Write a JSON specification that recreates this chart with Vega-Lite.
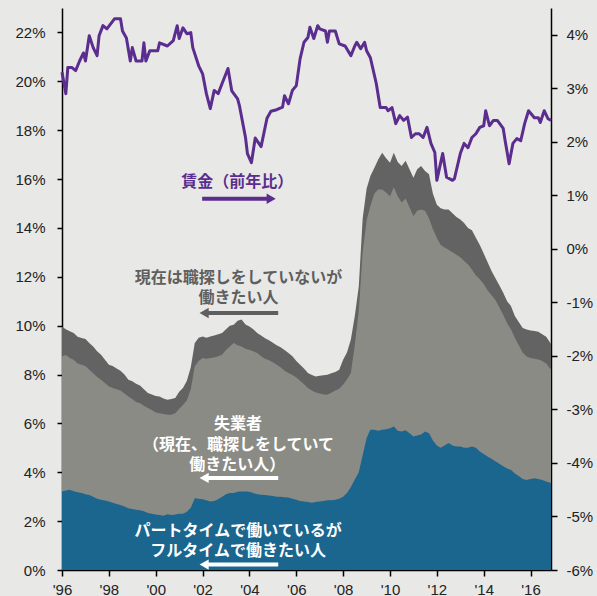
{
  "$schema": "https://vega.github.io/schema/vega-lite/v6.json",
  "width": 489,
  "height": 562,
  "autosize": "none",
  "padding": {"left": 62, "top": 8, "right": 46, "bottom": 26},
  "background": "#e8e8e6",
  "config": {
    "view": {"stroke": null},
    "axis": {"grid": false, "domainColor": "#000", "tickColor": "#000", "domainWidth": 1.5, "tickWidth": 1.5, "labelFont": "Liberation Sans", "labelFontSize": 15, "labelColor": "#222", "title": null}
  },
  "datasets": {
    "areas": [
      {"d":"1996-01-01","B":3.21,"G":8.74,"T":9.95},
      {"d":"1996-03-01","B":3.25,"G":8.80,"T":9.85},
      {"d":"1996-05-01","B":3.28,"G":8.68,"T":9.77},
      {"d":"1996-07-01","B":3.22,"G":8.60,"T":9.70},
      {"d":"1996-09-01","B":3.18,"G":8.45,"T":9.55},
      {"d":"1996-11-01","B":3.15,"G":8.40,"T":9.49},
      {"d":"1997-01-01","B":3.10,"G":8.35,"T":9.45},
      {"d":"1997-03-01","B":3.07,"G":8.20,"T":9.29},
      {"d":"1997-05-01","B":3.00,"G":8.05,"T":9.15},
      {"d":"1997-07-01","B":2.92,"G":7.90,"T":8.95},
      {"d":"1997-09-01","B":2.87,"G":7.79,"T":8.81},
      {"d":"1997-11-01","B":2.84,"G":7.65,"T":8.60},
      {"d":"1998-01-01","B":2.80,"G":7.51,"T":8.40},
      {"d":"1998-03-01","B":2.75,"G":7.45,"T":8.35},
      {"d":"1998-05-01","B":2.70,"G":7.40,"T":8.25},
      {"d":"1998-07-01","B":2.66,"G":7.35,"T":8.15},
      {"d":"1998-09-01","B":2.60,"G":7.22,"T":8.00},
      {"d":"1998-11-01","B":2.53,"G":7.10,"T":7.79},
      {"d":"1999-01-01","B":2.50,"G":7.00,"T":7.72},
      {"d":"1999-03-01","B":2.47,"G":6.88,"T":7.62},
      {"d":"1999-05-01","B":2.45,"G":6.82,"T":7.55},
      {"d":"1999-07-01","B":2.40,"G":6.72,"T":7.40},
      {"d":"1999-09-01","B":2.33,"G":6.63,"T":7.24},
      {"d":"1999-11-01","B":2.30,"G":6.55,"T":7.18},
      {"d":"2000-01-01","B":2.27,"G":6.45,"T":7.12},
      {"d":"2000-03-01","B":2.25,"G":6.42,"T":7.10},
      {"d":"2000-05-01","B":2.22,"G":6.38,"T":7.02},
      {"d":"2000-07-01","B":2.28,"G":6.35,"T":6.97},
      {"d":"2000-09-01","B":2.25,"G":6.35,"T":7.00},
      {"d":"2000-11-01","B":2.27,"G":6.42,"T":7.04},
      {"d":"2001-01-01","B":2.30,"G":6.60,"T":7.30},
      {"d":"2001-03-01","B":2.30,"G":6.75,"T":7.45},
      {"d":"2001-05-01","B":2.38,"G":6.95,"T":7.75},
      {"d":"2001-07-01","B":2.55,"G":7.40,"T":8.30},
      {"d":"2001-09-01","B":2.94,"G":8.33,"T":9.29},
      {"d":"2001-11-01","B":2.92,"G":8.55,"T":9.50},
      {"d":"2002-01-01","B":2.90,"G":8.68,"T":9.56},
      {"d":"2002-03-01","B":2.85,"G":8.65,"T":9.50},
      {"d":"2002-05-01","B":2.80,"G":8.68,"T":9.56},
      {"d":"2002-07-01","B":2.82,"G":8.70,"T":9.60},
      {"d":"2002-09-01","B":2.90,"G":8.75,"T":9.65},
      {"d":"2002-11-01","B":3.00,"G":8.81,"T":9.70},
      {"d":"2003-01-01","B":3.10,"G":9.00,"T":9.85},
      {"d":"2003-03-01","B":3.15,"G":9.15,"T":10.00},
      {"d":"2003-05-01","B":3.15,"G":9.29,"T":10.04},
      {"d":"2003-07-01","B":3.20,"G":9.20,"T":10.20},
      {"d":"2003-09-01","B":3.21,"G":9.15,"T":10.25},
      {"d":"2003-11-01","B":3.21,"G":9.05,"T":10.05},
      {"d":"2004-01-01","B":3.20,"G":9.00,"T":9.97},
      {"d":"2004-03-01","B":3.15,"G":8.95,"T":9.85},
      {"d":"2004-05-01","B":3.10,"G":8.88,"T":9.70},
      {"d":"2004-07-01","B":3.08,"G":8.75,"T":9.60},
      {"d":"2004-09-01","B":3.07,"G":8.65,"T":9.48},
      {"d":"2004-11-01","B":3.05,"G":8.58,"T":9.40},
      {"d":"2005-01-01","B":3.03,"G":8.50,"T":9.30},
      {"d":"2005-03-01","B":3.00,"G":8.40,"T":9.20},
      {"d":"2005-05-01","B":3.00,"G":8.30,"T":9.12},
      {"d":"2005-07-01","B":2.98,"G":8.15,"T":9.00},
      {"d":"2005-09-01","B":2.97,"G":8.06,"T":8.88},
      {"d":"2005-11-01","B":2.92,"G":7.98,"T":8.75},
      {"d":"2006-01-01","B":2.87,"G":7.88,"T":8.55},
      {"d":"2006-03-01","B":2.82,"G":7.75,"T":8.40},
      {"d":"2006-05-01","B":2.80,"G":7.60,"T":8.25},
      {"d":"2006-07-01","B":2.78,"G":7.45,"T":8.06},
      {"d":"2006-09-01","B":2.75,"G":7.35,"T":7.98},
      {"d":"2006-11-01","B":2.78,"G":7.26,"T":7.92},
      {"d":"2007-01-01","B":2.80,"G":7.22,"T":7.95},
      {"d":"2007-03-01","B":2.82,"G":7.18,"T":7.97},
      {"d":"2007-05-01","B":2.85,"G":7.17,"T":7.99},
      {"d":"2007-07-01","B":2.85,"G":7.25,"T":8.05},
      {"d":"2007-09-01","B":2.88,"G":7.35,"T":8.10},
      {"d":"2007-11-01","B":2.92,"G":7.42,"T":8.20},
      {"d":"2008-01-01","B":3.00,"G":7.58,"T":8.60},
      {"d":"2008-03-01","B":3.15,"G":7.80,"T":8.90},
      {"d":"2008-05-01","B":3.40,"G":8.06,"T":9.43},
      {"d":"2008-07-01","B":3.70,"G":9.20,"T":10.40},
      {"d":"2008-09-01","B":4.00,"G":10.60,"T":11.60},
      {"d":"2008-11-01","B":4.70,"G":13.00,"T":14.40},
      {"d":"2009-01-01","B":5.40,"G":14.30,"T":15.60},
      {"d":"2009-03-01","B":5.74,"G":14.90,"T":16.12},
      {"d":"2009-05-01","B":5.74,"G":15.40,"T":16.45},
      {"d":"2009-07-01","B":5.70,"G":15.57,"T":16.80},
      {"d":"2009-09-01","B":5.74,"G":15.57,"T":17.08},
      {"d":"2009-11-01","B":5.76,"G":15.45,"T":16.85},
      {"d":"2010-01-01","B":5.80,"G":15.30,"T":16.67},
      {"d":"2010-03-01","B":5.87,"G":15.66,"T":17.08},
      {"d":"2010-05-01","B":5.70,"G":15.30,"T":16.70},
      {"d":"2010-07-01","B":5.67,"G":15.04,"T":16.53},
      {"d":"2010-09-01","B":5.72,"G":15.20,"T":16.75},
      {"d":"2010-11-01","B":5.60,"G":14.85,"T":16.40},
      {"d":"2011-01-01","B":5.46,"G":14.48,"T":16.05},
      {"d":"2011-03-01","B":5.50,"G":14.70,"T":16.40},
      {"d":"2011-05-01","B":5.55,"G":14.75,"T":16.53},
      {"d":"2011-07-01","B":5.67,"G":14.70,"T":16.33},
      {"d":"2011-09-01","B":5.60,"G":14.40,"T":16.20},
      {"d":"2011-11-01","B":5.30,"G":13.95,"T":15.40},
      {"d":"2012-01-01","B":5.10,"G":13.60,"T":14.95},
      {"d":"2012-03-01","B":5.00,"G":13.30,"T":14.80},
      {"d":"2012-05-01","B":5.10,"G":13.20,"T":14.75},
      {"d":"2012-07-01","B":5.20,"G":13.11,"T":14.75},
      {"d":"2012-09-01","B":5.10,"G":13.00,"T":14.60},
      {"d":"2012-11-01","B":5.05,"G":12.90,"T":14.45},
      {"d":"2013-01-01","B":5.05,"G":12.80,"T":14.34},
      {"d":"2013-03-01","B":5.00,"G":12.65,"T":14.20},
      {"d":"2013-05-01","B":5.00,"G":12.50,"T":14.00},
      {"d":"2013-07-01","B":5.05,"G":12.30,"T":13.90},
      {"d":"2013-09-01","B":5.00,"G":12.05,"T":13.60},
      {"d":"2013-11-01","B":4.85,"G":11.90,"T":13.30},
      {"d":"2014-01-01","B":4.75,"G":11.70,"T":12.95},
      {"d":"2014-03-01","B":4.65,"G":11.45,"T":12.60},
      {"d":"2014-05-01","B":4.55,"G":11.25,"T":12.25},
      {"d":"2014-07-01","B":4.45,"G":11.05,"T":11.95},
      {"d":"2014-09-01","B":4.35,"G":10.75,"T":11.65},
      {"d":"2014-11-01","B":4.25,"G":10.45,"T":11.35},
      {"d":"2015-01-01","B":4.15,"G":10.10,"T":11.00},
      {"d":"2015-03-01","B":4.10,"G":9.85,"T":10.80},
      {"d":"2015-05-01","B":3.95,"G":9.50,"T":10.40},
      {"d":"2015-07-01","B":3.85,"G":9.20,"T":10.15},
      {"d":"2015-09-01","B":3.72,"G":8.90,"T":9.90},
      {"d":"2015-11-01","B":3.68,"G":8.74,"T":9.84},
      {"d":"2016-01-01","B":3.72,"G":8.68,"T":9.80},
      {"d":"2016-03-01","B":3.75,"G":8.65,"T":9.78},
      {"d":"2016-05-01","B":3.72,"G":8.61,"T":9.75},
      {"d":"2016-07-01","B":3.68,"G":8.55,"T":9.65},
      {"d":"2016-09-01","B":3.62,"G":8.45,"T":9.55},
      {"d":"2016-11-15","B":3.56,"G":8.20,"T":9.25}
    ],
    "wage": [
      {"d":"1996-01-01","w":3.30},{"d":"1996-03-01","w":2.90},{"d":"1996-04-01","w":3.39},{"d":"1996-06-01","w":3.39},
      {"d":"1996-08-01","w":3.33},{"d":"1996-10-01","w":3.51},{"d":"1996-12-01","w":3.66},{"d":"1997-01-01","w":3.51},
      {"d":"1997-03-01","w":3.98},{"d":"1997-05-01","w":3.76},{"d":"1997-07-01","w":3.61},{"d":"1997-08-01","w":3.98},
      {"d":"1997-10-01","w":4.17},{"d":"1997-12-01","w":4.11},{"d":"1998-04-01","w":4.30},{"d":"1998-07-01","w":4.30},
      {"d":"1998-08-01","w":4.07},{"d":"1998-10-01","w":3.94},{"d":"1998-12-01","w":3.51},{"d":"1999-01-01","w":3.76},
      {"d":"1999-03-01","w":3.51},{"d":"1999-06-01","w":3.51},{"d":"1999-07-01","w":3.85},{"d":"1999-08-01","w":3.51},
      {"d":"1999-10-01","w":3.70},{"d":"2000-02-01","w":3.70},{"d":"2000-03-01","w":3.85},{"d":"2000-07-01","w":3.79},
      {"d":"2000-10-01","w":3.89},{"d":"2000-12-01","w":4.17},{"d":"2001-01-01","w":3.93},{"d":"2001-03-01","w":4.13},
      {"d":"2001-05-01","w":4.02},{"d":"2001-07-01","w":4.04},{"d":"2001-08-01","w":3.76},{"d":"2001-11-01","w":3.42},
      {"d":"2002-01-01","w":3.27},{"d":"2002-03-01","w":2.90},{"d":"2002-05-01","w":2.62},{"d":"2002-07-01","w":2.96},
      {"d":"2002-09-01","w":2.90},{"d":"2002-11-01","w":3.09},{"d":"2003-02-01","w":3.37},{"d":"2003-04-01","w":2.95},
      {"d":"2003-07-01","w":2.80},{"d":"2003-08-01","w":2.66},{"d":"2003-11-01","w":2.08},{"d":"2003-12-01","w":1.78},
      {"d":"2004-02-01","w":1.61},{"d":"2004-04-01","w":2.07},{"d":"2004-07-01","w":1.91},{"d":"2004-10-01","w":2.44},
      {"d":"2004-12-01","w":2.57},{"d":"2005-03-01","w":2.60},{"d":"2005-06-01","w":2.65},{"d":"2005-07-01","w":2.86},
      {"d":"2005-09-01","w":2.71},{"d":"2005-11-01","w":2.96},{"d":"2006-01-01","w":3.05},{"d":"2006-03-01","w":3.55},
      {"d":"2006-05-01","w":3.86},{"d":"2006-07-01","w":3.95},{"d":"2006-08-01","w":4.14},{"d":"2006-10-01","w":3.93},
      {"d":"2006-12-01","w":4.17},{"d":"2007-01-01","w":4.11},{"d":"2007-04-01","w":4.07},{"d":"2007-05-01","w":3.86},
      {"d":"2007-06-01","w":4.07},{"d":"2007-09-01","w":4.07},{"d":"2007-11-01","w":3.83},{"d":"2008-02-01","w":3.79},
      {"d":"2008-05-01","w":3.61},{"d":"2008-07-01","w":3.79},{"d":"2008-08-01","w":3.86},{"d":"2008-10-01","w":3.74},
      {"d":"2008-12-01","w":3.86},{"d":"2009-01-01","w":3.70},{"d":"2009-03-01","w":3.57},{"d":"2009-06-01","w":3.09},
      {"d":"2009-08-01","w":2.64},{"d":"2009-11-01","w":2.64},{"d":"2009-12-01","w":2.58},{"d":"2010-02-01","w":2.64},
      {"d":"2010-04-01","w":2.34},{"d":"2010-06-01","w":2.49},{"d":"2010-08-01","w":2.40},{"d":"2010-10-01","w":2.46},
      {"d":"2010-12-01","w":2.08},{"d":"2011-02-01","w":2.15},{"d":"2011-04-01","w":2.15},{"d":"2011-06-01","w":2.08},
      {"d":"2011-08-01","w":2.27},{"d":"2011-10-01","w":1.97},{"d":"2011-12-01","w":1.80},{"d":"2012-01-01","w":1.28},
      {"d":"2012-04-01","w":1.78},{"d":"2012-06-01","w":1.34},{"d":"2012-09-01","w":1.28},{"d":"2012-10-01","w":1.31},
      {"d":"2013-01-01","w":1.78},{"d":"2013-03-01","w":1.97},{"d":"2013-05-01","w":1.89},{"d":"2013-07-01","w":2.08},
      {"d":"2013-09-01","w":2.15},{"d":"2013-11-01","w":2.27},{"d":"2014-01-01","w":2.30},{"d":"2014-02-01","w":2.58},
      {"d":"2014-04-01","w":2.30},{"d":"2014-06-01","w":2.40},{"d":"2014-08-01","w":2.40},{"d":"2014-11-01","w":2.25},
      {"d":"2014-12-01","w":2.02},{"d":"2015-02-01","w":1.59},{"d":"2015-04-01","w":1.97},{"d":"2015-06-01","w":2.06},
      {"d":"2015-08-01","w":2.02},{"d":"2015-10-01","w":2.34},{"d":"2015-12-01","w":2.58},{"d":"2016-03-01","w":2.45},
      {"d":"2016-05-01","w":2.45},{"d":"2016-06-01","w":2.36},{"d":"2016-08-01","w":2.58},{"d":"2016-10-01","w":2.43},
      {"d":"2016-11-15","w":2.40}
    ],
    "notes": [
      {"d":"2003-06-25","v":15.89,"t":"賃金（前年比）","g":"wage"},
      {"d":"2003-07-15","v":11.96,"t":"現在は職探しをしていないが","g":"nojob"},
      {"d":"2003-07-15","v":11.14,"t":"働きたい人","g":"nojob"},
      {"d":"2003-07-08","v":5.98,"t":"失業者","g":"unemp"},
      {"d":"2003-07-15","v":5.12,"t":"（現在、職探しをしていて","g":"unemp"},
      {"d":"2003-06-25","v":4.30,"t":"働きたい人）","g":"unemp"},
      {"d":"2003-07-08","v":1.60,"t":"パートタイムで働いているが","g":"part"},
      {"d":"2003-07-08","v":0.78,"t":"フルタイムで働きたい人","g":"part"}
    ],
    "arrows": [
      {"d1":"2001-12-25","d2":"2004-11-20","h":"2004-12-05","v":15.19,"g":"wage","dir":"right"},
      {"d1":"2002-01-25","d2":"2005-03-25","h":"2002-01-25","v":10.52,"g":"nojob","dir":"left"},
      {"d1":"2002-01-25","d2":"2005-03-25","h":"2002-01-25","v":3.77,"g":"unemp","dir":"left"},
      {"d1":"2002-01-25","d2":"2005-03-25","h":"2002-01-25","v":0.22,"g":"part","dir":"left"}
    ]
  },
  "layer": [
    {
      "layer": [
        {
          "data": {"name": "areas"},
          "mark": {"type": "area", "color": "#636363"},
          "encoding": {
            "x": {"field": "d", "type": "temporal", "title": null,
                  "scale": {"type": "utc", "domain": [{"year":1996,"month":1,"date":1,"utc":true},{"year":2016,"month":11,"date":15,"utc":true}]},
                  "axis": {"format": "'%y", "tickCount": {"interval": "year", "step": 2}, "tickSize": 6, "labelPadding": 6, "labelAlign": "center", "labelFlush": false}},
            "y": {"field": "T", "type": "quantitative", "title": null,
                  "scale": {"domain": [0, 23], "nice": false, "zero": true},
                  "axis": {"values": [0,2,4,6,8,10,12,14,16,18,20,22], "labelExpr": "datum.value + '%'", "tickSize": 5, "labelPadding": 12}}
          }
        },
        {
          "data": {"name": "areas"},
          "mark": {"type": "area", "color": "#8b8b86"},
          "encoding": {
            "x": {"field": "d", "type": "temporal", "title": null},
            "y": {"field": "G", "type": "quantitative", "title": null}
          }
        },
        {
          "data": {"name": "areas"},
          "mark": {"type": "area", "color": "#1a668f"},
          "encoding": {
            "x": {"field": "d", "type": "temporal", "title": null},
            "y": {"field": "B", "type": "quantitative", "title": null}
          }
        },
        {
          "data": {"name": "arrows"},
          "mark": {"type": "rule", "strokeWidth": 4},
          "encoding": {
            "x": {"field": "d1", "type": "temporal", "title": null},
            "x2": {"field": "d2"},
            "y": {"field": "v", "type": "quantitative", "title": null},
            "color": {"field": "g", "type": "nominal", "legend": null,
                      "scale": {"domain": ["wage","nojob","unemp","part"], "range": ["#5b2d8e","#5f5f5f","#ffffff","#ffffff"]}}
          }
        },
        {
          "data": {"name": "arrows"},
          "mark": {"type": "point", "filled": true, "opacity": 1, "size": 110},
          "encoding": {
            "x": {"field": "h", "type": "temporal", "title": null},
            "y": {"field": "v", "type": "quantitative", "title": null},
            "shape": {"field": "dir", "type": "nominal", "legend": null,
                      "scale": {"domain": ["right","left"], "range": ["triangle-right","triangle-left"]}},
            "color": {"field": "g", "type": "nominal", "legend": null}
          }
        },
        {
          "data": {"name": "notes"},
          "mark": {"type": "text", "font": "Noto Sans CJK JP", "fontWeight": "bold", "fontSize": 16, "align": "center", "baseline": "middle"},
          "encoding": {
            "x": {"field": "d", "type": "temporal", "title": null},
            "y": {"field": "v", "type": "quantitative", "title": null},
            "text": {"field": "t"},
            "color": {"field": "g", "type": "nominal", "legend": null}
          }
        }
      ]
    },
    {
      "data": {"name": "wage"},
      "mark": {"type": "line", "color": "#5b2d8e", "strokeWidth": 3, "strokeJoin": "round"},
      "encoding": {
        "x": {"field": "d", "type": "temporal", "title": null},
        "y": {"field": "w", "type": "quantitative", "title": null,
              "scale": {"domain": [-6, 4.5], "nice": false, "zero": false},
              "axis": {"orient": "right", "values": [-6,-5,-4,-3,-2,-1,0,1,2,3,4], "labelExpr": "datum.value + '%'", "tickSize": 6, "labelPadding": 9}}
      }
    }
  ],
  "resolve": {"scale": {"y": "independent"}}
}
